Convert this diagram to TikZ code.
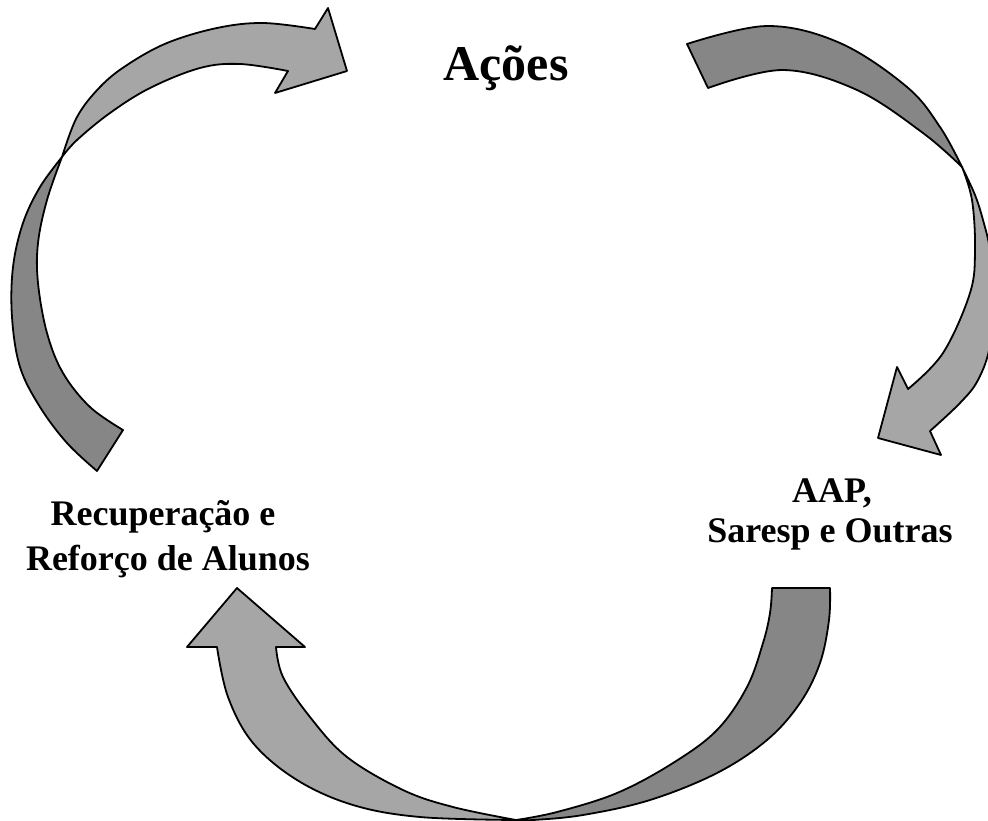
\documentclass[tikz,border=0pt]{standalone}
\usepackage{fontspec}
\setmainfont{Liberation Serif}
\begin{document}
\begin{tikzpicture}[x=1pt,y=-1pt,
  lightband/.style={fill={rgb,255:red,166;green,166;blue,166},draw=black,line width=1.8pt,line join=round},
  darkband/.style={fill={rgb,255:red,134;green,134;blue,134},draw=black,line width=1.8pt,line join=round},
  bigtitle/.style={font=\fontsize{50}{60}\selectfont\bfseries,anchor=base,inner sep=0pt},
  labeltext/.style={font=\fontsize{36}{43}\selectfont\bfseries,anchor=base,inner sep=0pt}]
\useasboundingbox (0,0) rectangle (988,820);

% ---------- top-left arrow ----------
\path[darkband] (62,157) -- plot[smooth,tension=0.6] coordinates {(62,157) (40,187) (23,223) (13,267) (12,317) (20,367) (40,407) (67,443) (97,471)}
  -- (123,430)
  -- plot[smooth,tension=0.6] coordinates {(123,430) (90,407) (63,373) (47,333) (38,283) (38,243) (47,200) (62,157)} -- cycle;
\path[lightband] (288,71) -- plot[smooth,tension=0.6] coordinates {(288,71) (240,64) (200,68) (150,88) (110,113) (77,140) (62,157)}
  -- plot[smooth,tension=0.6] coordinates {(62,157) (77,117) (100,87) (127,65) (167,43) (217,28) (263,23) (315,29)}
  -- (328,8) -- (347,71) -- (275,93) -- cycle;

% ---------- top-right arrow ----------
\path[darkband] (687,44) -- plot[smooth,tension=0.6] coordinates {(687,44) (767,26) (840,43) (907,87) (940,127) (962,167)}
  -- plot[smooth,tension=0.6] coordinates {(962,167) (923,133) (857,90) (783,70) (708,88)} -- cycle;
\path[lightband] (962,167) -- plot[smooth,tension=0.6] coordinates {(962,167) (972,200) (975,250) (970,293) (943,353) (908,389)}
  -- (897,367) -- (878,438) -- (941,455) -- (930,431)
  -- plot[smooth,tension=0.6] coordinates {(930,431) (960,403) (978,380) (990,345) (993,290) (990,250) (983,220) (975,195) (962,167)} -- cycle;

% ---------- bottom arrow ----------
\path[darkband] (516,820) -- plot[smooth,tension=0.6] coordinates {(516,820) (533,820) (583,815) (650,800) (717,773) (767,740) (800,703) (820,663) (829,620) (830,588)}
  -- (772,588)
  -- plot[smooth,tension=0.6] coordinates {(772,588) (770,613) (763,643) (747,687) (717,730) (673,763) (617,793) (557,812) (516,820)} -- cycle;
\path[lightband] (217,647) -- plot[smooth,tension=0.6] coordinates {(217,647) (228,697) (253,743) (297,780) (353,805) (420,817) (516,820)}
  -- plot[smooth,tension=0.6] coordinates {(516,820) (453,807) (403,790) (347,757) (310,717) (283,677) (276,647)}
  -- (305,647) -- (237,588) -- (187,647) -- cycle;

% ---------- texts ----------
\node[bigtitle] (acoes) at (506,80) {Ações};
\node[labeltext] (recA) at (163,525) {Recuperação e};
\node[labeltext] (recB) at (168,570) {Reforço de Alunos};
\node[labeltext] (aapA) at (832,502) {AAP,};
\node[labeltext] (aapB) at (830,542) {Saresp e Outras};
\end{tikzpicture}
\end{document}
